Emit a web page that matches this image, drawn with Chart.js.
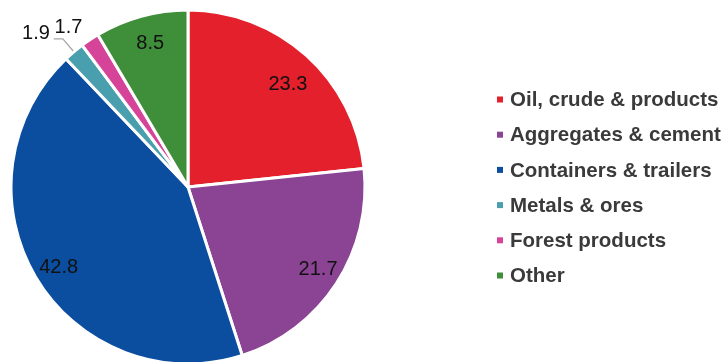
<!DOCTYPE html>
<html><head><meta charset="utf-8">
<script src="https://cdn.jsdelivr.net/npm/chart.js@4"></script>
<style>html,body{margin:0;padding:0;background:#fff}#wrap{width:724px;height:362px;position:relative}</style>
</head><body><div id="wrap"><canvas id="c" width="724" height="362"></canvas></div>
<script>
const categories = ["Oil, crude & products","Aggregates & cement","Containers & trailers","Metals & ores","Forest products","Other"];
const values = [23.3, 21.7, 42.8, 1.9, 1.7, 8.5];
const valueLabels = ["23.3","21.7","42.8","1.9","1.7","8.5"];
const colors = ["#E3202B","#8A4493","#0B4D9F","#4A9FAE","#D6449A","#3F8E39"];

const labelPlugin = {
  id:'labels',
  afterDatasetsDraw(chart){
    const ctx = chart.ctx;
    const meta = chart.getDatasetMeta(0);
    const adj = [[4,4,0.81],[4,0,0.85],[0,4,0.85],[0,0,0],[0,0,0],[2,2,0.85]];
    ctx.save();
    ctx.font = '20px "Liberation Sans", Arial, sans-serif';
    ctx.fillStyle = '#111';
    ctx.textBaseline = 'middle';
    meta.data.forEach((arc,i)=>{
      const p = arc.getProps(['x','y','startAngle','endAngle','outerRadius'],true);
      const a = (p.startAngle+p.endAngle)/2;
      const R = p.outerRadius;
      if (i===3){
        const ex = p.x+Math.cos(a)*(R+1), ey = p.y+Math.sin(a)*(R+1);
        const kx = p.x+Math.cos(a)*(R+17), ky = p.y+Math.sin(a)*(R+17);
        ctx.strokeStyle='#a6a6a6'; ctx.lineWidth=1.2;
        ctx.beginPath(); ctx.moveTo(ex,ey); ctx.lineTo(kx,ky); ctx.lineTo(kx-9,ky); ctx.stroke();
        ctx.textAlign='right';
        ctx.fillText(valueLabels[i], kx-13, ky-5);
      } else if (i===4){
        ctx.textAlign='center';
        ctx.fillText(valueLabels[i], p.x+Math.cos(a)*(R+24)-8, p.y+Math.sin(a)*(R+24)+8);
      } else {
        const f = adj[i][2];
        ctx.textAlign='center';
        ctx.fillText(valueLabels[i], p.x+Math.cos(a)*R*f+adj[i][0], p.y+Math.sin(a)*R*f+adj[i][1]);
      }
    });
    // legend
    ctx.font = 'bold 20.5px "Liberation Sans", Arial, sans-serif';
    ctx.textAlign='left';
    categories.forEach((c,i)=>{
      const y = 99.5 + i*35.2;
      ctx.fillStyle = colors[i];
      ctx.fillRect(497, y-3, 6, 6);
      ctx.fillStyle = '#3a3a3a';
      ctx.fillText(c, 510, y+1);
    });
    ctx.restore();
  }
};

new Chart(document.getElementById('c'), {
  type:'pie',
  data:{labels:categories, datasets:[{data:values, backgroundColor:colors, borderColor:'#fff', borderWidth:3, clip:false}]},
  options:{
    responsive:false, animation:false,
    radius:177,
    layout:{padding:{left:11,right:359,top:12,bottom:0}},
    plugins:{legend:{display:false}, tooltip:{enabled:false}}
  },
  plugins:[labelPlugin]
});
</script></body></html>
